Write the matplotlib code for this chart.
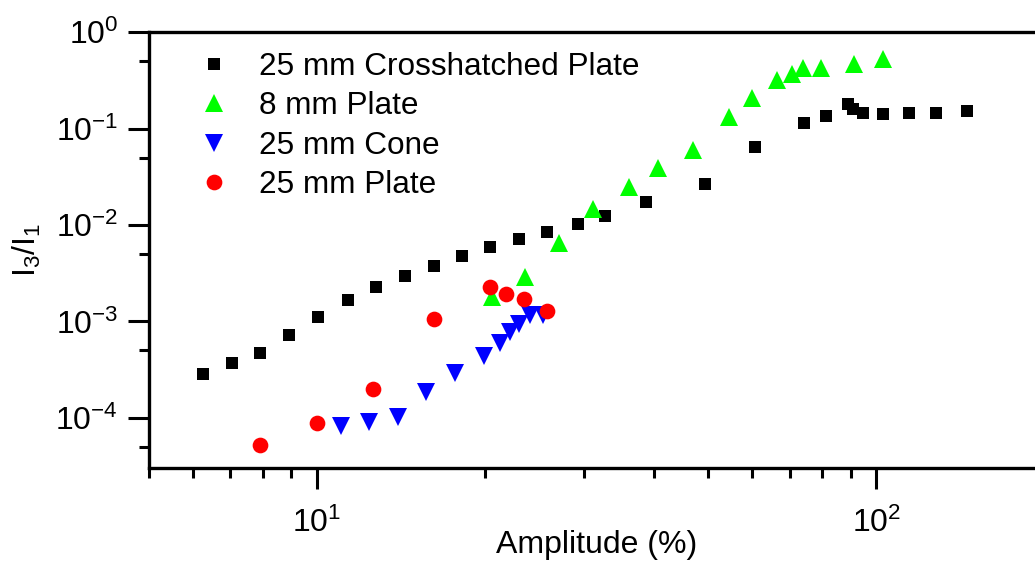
import matplotlib
matplotlib.use("Agg")
import matplotlib.pyplot as plt
from matplotlib.ticker import LogLocator, NullFormatter

# ---------------- data ----------------
cross_x = [6.27, 7.04, 7.91, 8.91, 10.05, 11.36, 12.76, 14.35, 16.16, 18.16, 20.40, 22.94,
           25.80, 29.24, 32.71, 38.72, 49.5, 60.8, 74.3, 81.4, 89.0, 90.7, 94.6, 102.8,
           114.3, 128.1, 145.0]
cross_y = [2.81e-4, 3.74e-4, 4.75e-4, 7.3e-4, 1.11e-3, 1.68e-3, 2.30e-3, 2.96e-3, 3.79e-3,
           4.78e-3, 5.89e-3, 7.12e-3, 8.48e-3, 1.03e-2, 1.24e-2, 1.74e-2, 2.65e-2, 6.5e-2,
           0.1146, 0.1345, 0.180, 0.161, 0.1445, 0.143, 0.1466, 0.1466, 0.1537]

plate8_x = [20.6, 23.56, 27.04, 31.22, 36.06, 40.68, 46.97, 54.55, 59.9, 66.46, 70.6, 74.1,
            79.6, 91.1, 102.7]
plate8_y = [1.78e-3, 2.87e-3, 6.48e-3, 1.46e-2, 2.47e-2, 3.91e-2, 6.01e-2, 0.133, 0.2067,
            0.3223, 0.372, 0.429, 0.429, 0.469, 0.525]

cone_x = [11.04, 12.40, 13.94, 15.66, 17.65, 19.88, 21.29, 22.12, 22.98, 24.02, 25.31]
cone_y = [8.3e-5, 9.0e-5, 1.01e-4, 1.83e-4, 2.90e-4, 4.39e-4, 5.94e-4, 7.78e-4, 9.35e-4,
          1.17e-3, 1.17e-3]

plate25_x = [7.92, 9.99, 12.6, 16.18, 20.43, 21.79, 23.43, 25.74]
plate25_y = [5.15e-5, 8.9e-5, 1.98e-4, 1.07e-3, 2.26e-3, 1.94e-3, 1.71e-3, 1.29e-3]

labels = ["25 mm Crosshatched Plate", "8 mm Plate", "25 mm Cone", "25 mm Plate"]

# ---------------- style ----------------
plt.rcParams["font.family"] = ["Liberation Sans", "DejaVu Sans"]
plt.rcParams["mathtext.fontset"] = "custom"
plt.rcParams["mathtext.rm"] = "Liberation Sans"
plt.rcParams["mathtext.it"] = "Liberation Sans:italic"
plt.rcParams["mathtext.bf"] = "Liberation Sans:bold"
plt.rcParams["axes.unicode_minus"] = False
FS = 23
FS_LEG = 22.7

W, H = 1035, 565
fig = plt.figure(figsize=(W / 100, H / 100), dpi=100)
left_px, right_px = 148.5, 1044.7
top_px, bot_px = 32.3, 468.1
ax = fig.add_axes([left_px / W, 1 - bot_px / H, (right_px - left_px) / W, (bot_px - top_px) / H])

ax.plot(cross_x, cross_y, ls="none", marker="s", ms=9.2, mew=0, color="black", label=labels[0])
ax.plot(plate8_x, plate8_y, ls="none", marker="^", ms=12.5, mew=0, color="#00ff00", label=labels[1])
ax.plot(cone_x, cone_y, ls="none", marker="v", ms=12.5, mew=0, color="#0000ff", label=labels[2])
ax.plot(plate25_x, plate25_y, ls="none", marker="o", ms=11.3, mew=0, color="#ff0000", label=labels[3])

ax.set_xscale("log")
ax.set_yscale("log")
ax.set_xlim(5, 200)
ax.set_ylim(3e-5, 1)

ax.xaxis.set_major_locator(LogLocator(base=10, numticks=10))
ax.xaxis.set_minor_locator(LogLocator(base=10, subs=[2, 3, 4, 5, 6, 7, 8, 9], numticks=10))
ax.yaxis.set_major_locator(LogLocator(base=10, numticks=10))
ax.yaxis.set_minor_locator(LogLocator(base=10, subs=[5], numticks=10))
ax.xaxis.set_minor_formatter(NullFormatter())
ax.yaxis.set_minor_formatter(NullFormatter())

for side in ["left", "bottom", "top"]:
    ax.spines[side].set_linewidth(2.4)
ax.spines["right"].set_visible(False)
ax.tick_params(which="major", direction="out", length=14.8, width=2.2, labelsize=FS,
               top=False, right=False)
ax.tick_params(which="minor", direction="out", length=7.5, width=2.2, top=False, right=False)
ax.tick_params(axis="y", which="major", pad=7)
ax.tick_params(axis="x", which="major", pad=14)

ax.set_xlabel("Amplitude (%)", fontsize=FS)
ax.xaxis.set_label_coords(0.5, -0.143)
ax.set_ylabel(r"$\mathregular{I_3/I_1}$", fontsize=FS)
ax.yaxis.set_label_coords(-0.118, 0.5)

# legend
leg = ax.legend(loc="upper left", bbox_to_anchor=(198.7 / W, 1 - 52 / H),
                bbox_transform=fig.transFigure, frameon=False, fontsize=FS_LEG,
                handlelength=1.0, handletextpad=0.92, labelspacing=0.30,
                borderpad=0, borderaxespad=0, numpoints=1)

fig.savefig("out.png", dpi=100)
